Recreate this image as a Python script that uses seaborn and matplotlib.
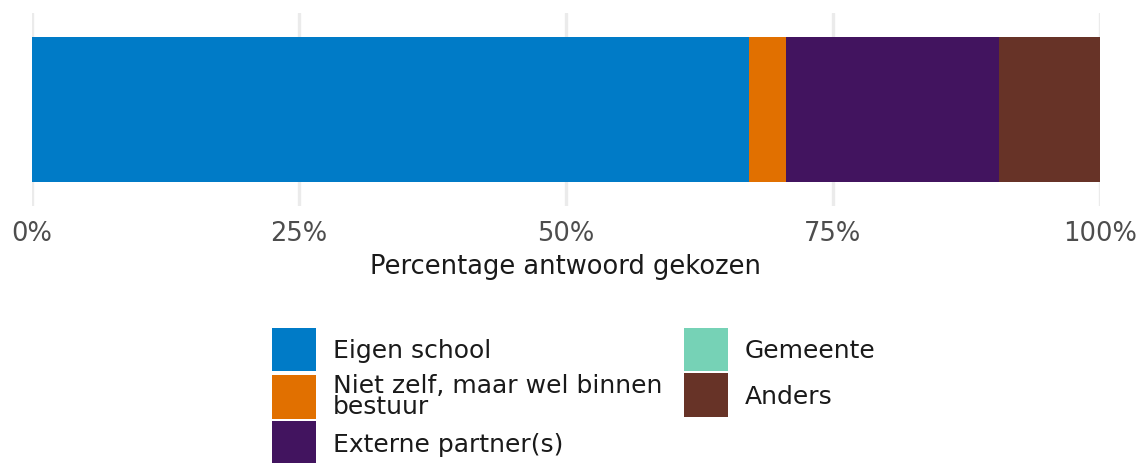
import matplotlib
matplotlib.use("Agg")
import matplotlib.pyplot as plt
from matplotlib.patches import Patch
import numpy as np
import pandas as pd
import seaborn as sns

# Answer categories and share of respondents (%)
categories = ["Eigen school", "Niet zelf, maar wel binnen\nbestuur",
              "Externe partner(s)", "Gemeente", "Anders"]
percentages = [67.1, 3.5, 19.9, 0.0, 9.5]
colors = ["#007BC7", "#E17000", "#42145F", "#76D2B6", "#673327"]
tick_values = [0, 25, 50, 75, 100]
tick_labels = ["0%", "25%", "50%", "75%", "100%"]

sns.set_theme(style="white")
plt.rcParams["font.family"] = ["DejaVu Sans"]

df = pd.DataFrame({"categorie": categories, "pct": percentages, "kleur": colors})
df["cum"] = df["pct"].cumsum()
df["rij"] = "vraag"

fig = plt.figure(figsize=(11.41, 4.64), dpi=100)
ax = fig.add_axes([32 / 1141, 1 - 207 / 464, 1068 / 1141, 193 / 464])

# Stacked bar: draw cumulative totals from the end backwards so each
# segment sits on top of the ones that follow it.
for _, row in df.iloc[::-1].iterrows():
    sns.barplot(data=row.to_frame().T.astype({"cum": float}), x="cum", y="rij",
                orient="h", color=row["kleur"], width=0.9, saturation=1,
                edgecolor="none", linewidth=0, ax=ax)

ax.set_xlim(0, 100)
ax.set_ylim(0.6, -0.6)
ax.set_xticks(tick_values)
ax.set_xticklabels(tick_labels)
ax.set_yticks([])
ax.set_ylabel("")
ax.set_xlabel("Percentage antwoord gekozen", fontsize=18.5, color="#1a1a1a", labelpad=5)
ax.tick_params(axis="x", length=0, pad=10, labelsize=18.5, labelcolor="#4d4d4d")
for x in tick_values:
    ax.axvline(x, color="#ebebeb", linewidth=2.4, zorder=0)
for s in ax.spines.values():
    s.set_visible(False)
ax.set_axisbelow(True)

handles = [Patch(facecolor=c, edgecolor="none") for c in colors]
leg = fig.legend(handles, categories, loc="upper center", bbox_to_anchor=(0.503, 1 - 316 / 464),
                 ncol=2, frameon=False, fontsize=18, handlelength=1.75, handleheight=2.33,
                 handletextpad=0.7, columnspacing=0.85, labelspacing=0.06, borderpad=0)
for t in leg.get_texts():
    t.set_linespacing(0.85)
    t.set_color("#1a1a1a")

fig.savefig("out.png", dpi=100)
